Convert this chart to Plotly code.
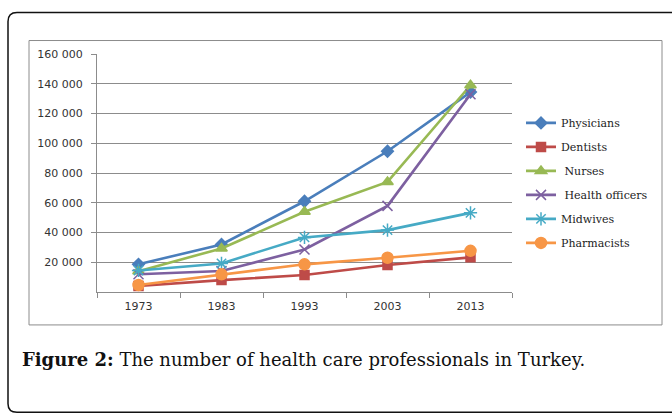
import plotly.graph_objects as go

years = ["1973", "1983", "1993", "2003", "2013"]
physicians = [18600, 32000, 61000, 94600, 134400]
dentists = [4000, 8000, 11400, 18100, 23300]
nurses = [14000, 29300, 53900, 74000, 139000]
health_officers = [11900, 14100, 28600, 57900, 133000]
midwives = [14500, 19200, 36700, 41600, 53200]
pharmacists = [4700, 11900, 18600, 23000, 27700]

series_names = ["Physicians", "Dentists", " Nurses", " Health officers", "Midwives", "Pharmacists"]
series_values = [physicians, dentists, nurses, health_officers, midwives, pharmacists]

y_tickvals = [20000, 40000, 60000, 80000, 100000, 120000, 140000, 160000]
y_ticktext = ["20 000", "40 000", "60 000", "80 000", "100 000", "120 000", "140 000", "160 000"]

caption_bold = "Figure 2:"
caption_text = " The number of health care professionals in Turkey."

colors = ["#4A7EBB", "#BE4B48", "#98B954", "#7D60A0", "#46AAC5", "#F79646"]
symbols = ["diamond", "square", "triangle-up", "x-thin-open", "asterisk-open", "circle"]
msizes = [9, 9, 10, 10, 11, 11]

W, H = 672, 413
L, R, T, B = 97, 512, 53.5, 292


def px(x):
    return (x - L) / (R - L)


def py(y):
    return (B - y) / (B - T)


fig = go.Figure()
for name, vals, c, s, ms in zip(series_names, series_values, colors, symbols, msizes):
    fig.add_trace(go.Scatter(
        x=years, y=vals, name=name, mode="lines+markers",
        line=dict(color=c, width=2.6),
        marker=dict(symbol=s, size=ms, color=c, line=dict(color=c, width=1.5)),
        legendgroup=name,
    ))

shapes = [
    # inner chart box
    dict(type="rect", xref="paper", yref="paper",
         x0=px(29), x1=px(662), y0=py(325), y1=py(40),
         line=dict(color="#8C8C8C", width=1), layer="below"),
    # outer frame: top and bottom lines
    dict(type="line", xref="paper", yref="paper",
         x0=px(17), x1=px(672), y0=py(12), y1=py(12),
         line=dict(color="#111111", width=1.5), layer="below"),
    dict(type="line", xref="paper", yref="paper",
         x0=px(17), x1=px(672), y0=py(412.5), y1=py(412.5),
         line=dict(color="#111111", width=1.5), layer="below"),
    # outer frame: rounded left side
    dict(type="path", xref="paper", yref="paper",
         path=(f"M {px(17)},{py(12)} Q {px(8)},{py(12)} {px(8)},{py(21)} "
               f"L {px(8)},{py(404)} Q {px(8)},{py(412.5)} {px(17)},{py(412.5)}"),
         line=dict(color="#111111", width=1.5), layer="below"),
]

fig.update_layout(
    width=W, height=H,
    margin=dict(l=L, r=W - R, t=T, b=H - B),
    paper_bgcolor="white", plot_bgcolor="white",
    showlegend=True,
    legend=dict(x=px(521), y=py(108), xanchor="left", yanchor="top",
                font=dict(family="DejaVu Serif", size=11, color="#222222"),
                traceorder="grouped", tracegroupgap=5,
                bgcolor="rgba(0,0,0,0)"),
    shapes=shapes,
    annotations=[dict(
        xref="paper", yref="paper", x=px(20), y=py(360),
        xanchor="left", yanchor="middle", showarrow=False,
        text=f"<b>{caption_bold}</b>{caption_text}",
        font=dict(family="DejaVu Serif", size=18, color="#111111"),
    )],
)

fig.update_xaxes(
    type="category", range=[-0.5, 4.5],
    showline=True, linecolor="#8C8C8C", linewidth=1,
    showgrid=False, ticks="outside", ticklen=5, tickcolor="#8C8C8C",
    tickson="boundaries",
    tickfont=dict(family="DejaVu Sans", size=11, color="#333333"),
    ticklabelstandoff=4,
)
fig.update_yaxes(
    range=[0, 160000], tickvals=y_tickvals, ticktext=y_ticktext,
    showline=True, linecolor="#8C8C8C", linewidth=1,
    showgrid=True, gridcolor="#8C8C8C", gridwidth=1,
    ticks="outside", ticklen=5, tickcolor="#8C8C8C",
    zeroline=False,
    tickfont=dict(family="DejaVu Sans", size=11, color="#333333"),
    ticklabelstandoff=6,
)

fig.write_html(
    "out.html",
    config={"displayModeBar": False},
    post_script="document.body.style.margin='0';document.body.style.overflow='hidden';"
                "document.documentElement.style.overflow='hidden';",
)
